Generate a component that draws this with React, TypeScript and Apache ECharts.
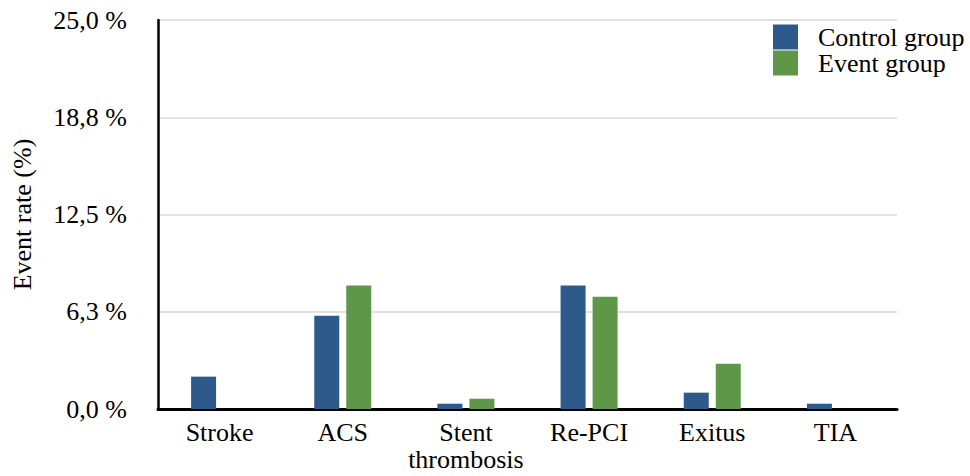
import React, { useEffect, useRef } from "react";
import * as echarts from "echarts";

const categories = ["Stroke", "ACS", "Stent\nthrombosis", "Re-PCI", "Exitus", "TIA"];
const controlGroup = [2.08, 6.0, 0.34, 7.93, 1.05, 0.34];
const eventGroup = [0, 7.93, 0.66, 7.22, 2.91, 0];
const yTickLabels = ["0,0 %", "6,3 %", "12,5 %", "18,8 %", "25,0 %"];
const seriesNames = ["Control group", "Event group"];

const FONT = "'Liberation Serif', 'Times New Roman', serif";

export default function App() {
  const ref = useRef<HTMLDivElement>(null);
  useEffect(() => {
    if (!ref.current) return;
    const chart = echarts.init(ref.current, undefined, { renderer: "svg" });
    chart.setOption({
      animation: false,
      backgroundColor: "#ffffff",
      textStyle: { fontFamily: FONT },
      legend: {
        orient: "vertical",
        left: 773,
        top: 24,
        itemWidth: 25,
        itemHeight: 25,
        itemGap: 0,
        icon: "rect",
        padding: 0,
        data: seriesNames,
        textStyle: {
          fontFamily: FONT,
          fontSize: 26,
          lineHeight: 25,
          color: "#000",
          padding: [0, 0, 0, 15],
        },
      },
      grid: {
        left: 158,
        right: 73,
        top: 20,
        bottom: 67,
        containLabel: false,
        outerBoundsMode: "none",
      },
      xAxis: {
        type: "category",
        data: categories,
        axisLine: { show: true, lineStyle: { color: "#000", width: 3 } },
        axisTick: { show: false },
        axisLabel: {
          fontFamily: FONT,
          fontSize: 26,
          color: "#000",
          margin: 10,
          lineHeight: 27,
          interval: 0,
        },
      },
      yAxis: {
        type: "value",
        min: 0,
        max: 25,
        interval: 6.25,
        name: "Event rate (%)",
        nameLocation: "middle",
        nameGap: 123,
        nameMoveOverlap: false,
        nameTextStyle: { fontFamily: FONT, fontSize: 26, color: "#000" },
        axisLine: { show: true, lineStyle: { color: "#000", width: 2.5 } },
        axisTick: { show: false },
        splitLine: { show: true, lineStyle: { color: "#d9d9d9", width: 1.5 } },
        axisLabel: {
          fontFamily: FONT,
          fontSize: 26,
          color: "#000",
          margin: 31,
          formatter: (v: number) => yTickLabels[Math.round(v / 6.25)] ?? "",
        },
      },
      series: [
        {
          name: seriesNames[0],
          type: "bar",
          data: controlGroup,
          barWidth: 25,
          barGap: "28%",
          itemStyle: { color: "#2E5A8B" },
        },
        {
          name: seriesNames[1],
          type: "bar",
          data: eventGroup,
          barWidth: 25,
          itemStyle: { color: "#5F9749" },
        },
      ],
    });
    return () => chart.dispose();
  }, []);
  return <div ref={ref} style={{ width: 970, height: 476, position: "absolute", left: 0, top: 0 }} />;
}
